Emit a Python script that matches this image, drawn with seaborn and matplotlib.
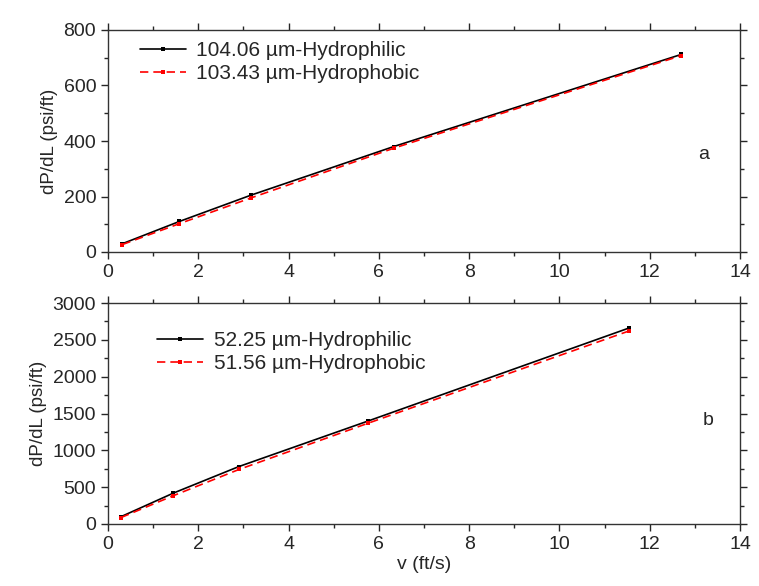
import matplotlib
matplotlib.use("Agg")
import matplotlib.pyplot as plt
import seaborn as sns
import pandas as pd
from matplotlib.ticker import MultipleLocator

sns.set_theme(style="ticks")
plt.rcParams['font.family'] = ['Liberation Sans', 'DejaVu Sans']

# Panel a data
v_a_phil = [0.32, 1.58, 3.17, 6.33, 12.70]
dp_a_phil = [30, 110, 205, 380, 712]
v_a_phob = [0.32, 1.58, 3.17, 6.33, 12.70]
dp_a_phob = [27, 102, 195, 374, 708]

# Panel b data
v_b_phil = [0.29, 1.45, 2.90, 5.77, 11.54]
dp_b_phil = [100, 420, 780, 1400, 2660]
v_b_phob = [0.29, 1.45, 2.90, 5.77, 11.54]
dp_b_phob = [88, 385, 740, 1370, 2620]

labels_a = ["104.06 µm-Hydrophilic", "103.43 µm-Hydrophobic"]
labels_b = ["52.25 µm-Hydrophilic", "51.56 µm-Hydrophobic"]

fig = plt.figure(figsize=(7.59, 5.86), dpi=100)
ax1 = fig.add_axes([108/759, 1-252/586, 632/759, 222/586])
ax2 = fig.add_axes([108/759, 1-524/586, 632/759, 221/586])

def draw(ax, v1, d1, v2, d2, labels):
    df1 = pd.DataFrame({"v": v1, "dp": d1})
    df2 = pd.DataFrame({"v": v2, "dp": d2})
    sns.lineplot(data=df1, x="v", y="dp", ax=ax, color="black", lw=1.2,
                 marker="s", markersize=3, markeredgewidth=0, label=labels[0])
    sns.lineplot(data=df2, x="v", y="dp", ax=ax, color="red", lw=1.2,
                 marker="s", markersize=3, markeredgewidth=0, label=labels[1])
    ax.lines[1].set_dashes([5, 3])
    ax.set_xlim(0, 14)
    ax.xaxis.set_major_locator(MultipleLocator(2))
    ax.xaxis.set_minor_locator(MultipleLocator(1))
    ax.tick_params(which="both", top=True, right=True, labelsize=14)
    ax.tick_params(which="major", length=5, width=1)
    ax.tick_params(which="minor", length=3, width=1)
    for s in ax.spines.values():
        s.set_linewidth(1.0)
        s.set_color("#333333")
    ax.set_ylabel("dP/dL (psi/ft)", fontsize=13.5)

draw(ax1, v_a_phil, dp_a_phil, v_a_phob, dp_a_phob, labels_a)
draw(ax2, v_b_phil, dp_b_phil, v_b_phob, dp_b_phob, labels_b)

ax1.set_ylim(0, 800)
ax1.yaxis.set_major_locator(MultipleLocator(200))
ax1.yaxis.set_minor_locator(MultipleLocator(100))
ax1.set_xlabel("")
ax1.text(13.2, 350, "a", fontsize=14, ha="center", va="center")

ax2.set_ylim(0, 3000)
ax2.yaxis.set_major_locator(MultipleLocator(500))
ax2.yaxis.set_minor_locator(MultipleLocator(250))
ax2.set_xlabel("v (ft/s)", fontsize=14, labelpad=2)
ax2.text(13.3, 1410, "b", fontsize=14, ha="center", va="center")

leg_kw = dict(loc="upper left", frameon=False, fontsize=15, handlelength=2.2,
              handletextpad=0.5, labelspacing=0.2, borderaxespad=0, borderpad=0)
ax1.legend(bbox_to_anchor=(0.051, 0.95), **leg_kw)
ax2.legend(bbox_to_anchor=(0.078, 0.873), **leg_kw)

fig.savefig("out.png", dpi=100)
